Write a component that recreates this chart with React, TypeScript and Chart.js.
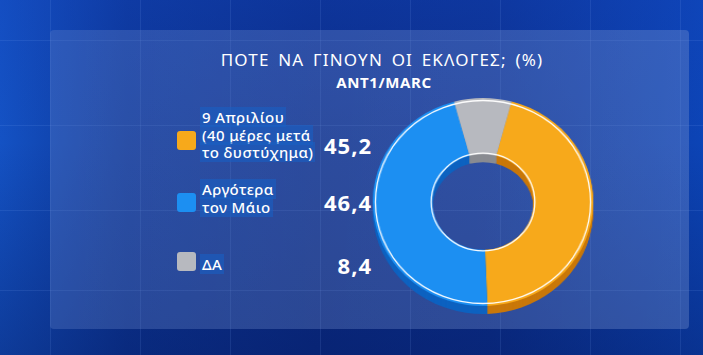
import React, { useEffect, useRef } from "react";
import { Chart, registerables } from "chart.js";

Chart.register(...registerables);

const categories: string[][] = [
  ["9 Απριλίου", "(40 μέρες μετά", "το δυστύχημα)"],
  ["Αργότερα", "τον Μάιο"],
  ["ΔΑ"],
];
const values: number[] = [45.2, 46.4, 8.4];
const colors: string[] = ["#F7A91B", "#1C8FF2", "#B7B9BF"];
const sideColors: string[] = ["#C9780A", "#0D62C0", "#8A8C92"];
const title = "ΠΟΤΕ ΝΑ ΓΙΝΟΥΝ ΟΙ ΕΚΛΟΓΕΣ; (%)";
const subtitle = "ANT1/MARC";

const fmt = (v: number) => v.toFixed(1).replace(".", ",");

const depthPlugin = {
  id: "depth3d",
  beforeDatasetsDraw(chart: any) {
    const ctx = chart.ctx;
    const meta = chart.getDatasetMeta(0);
    ctx.save();
    for (let d = 8; d >= 1; d--) {
      meta.data.forEach((arc: any, i: number) => {
        const p = arc.getProps(["x", "y", "startAngle", "endAngle", "innerRadius", "outerRadius"], true);
        ctx.beginPath();
        ctx.arc(p.x, p.y + d, p.outerRadius, p.startAngle, p.endAngle);
        ctx.arc(p.x, p.y + d, p.innerRadius, p.endAngle, p.startAngle, true);
        ctx.closePath();
        ctx.fillStyle = sideColors[i];
        ctx.fill();
      });
    }
    ctx.restore();
  },
  afterDatasetsDraw(chart: any) {
    const ctx = chart.ctx;
    const meta = chart.getDatasetMeta(0);
    const a = meta.data[0];
    if (!a) return;
    const p = a.getProps(["x", "y", "innerRadius", "outerRadius"], true);
    ctx.save();
    ctx.strokeStyle = "rgba(255,255,255,0.95)";
    ctx.lineWidth = 1.3;
    ctx.beginPath();
    ctx.arc(p.x, p.y, p.outerRadius - 2.5, 0, Math.PI * 2);
    ctx.stroke();
    ctx.beginPath();
    ctx.arc(p.x, p.y, p.innerRadius + 1, 0, Math.PI * 2);
    ctx.stroke();
    ctx.restore();
  },
};

const rowTops = [109, 181, 256];
const squareTops = [131, 193, 252];
const valueCenters = [145, 202, 265];

export default function App() {
  const ref = useRef<HTMLCanvasElement | null>(null);
  useEffect(() => {
    if (!ref.current) return;
    const chart = new Chart(ref.current, {
      type: "doughnut",
      data: {
        labels: categories.map((c) => c.join(" ")),
        datasets: [
          {
            data: values,
            backgroundColor: colors,
            borderWidth: 0,
          },
        ],
      },
      options: {
        animation: false,
        responsive: false,
        rotation: 15,
        cutout: "46%",
        layout: { padding: { left: 11, right: 11, top: 13, bottom: 19 } },
        plugins: { legend: { display: false }, tooltip: { enabled: false } },
      },
      plugins: [depthPlugin],
    });
    return () => chart.destroy();
  }, []);

  const gridLinesV = [50, 140, 230, 320, 410, 500, 590, 680];
  const gridLinesH = [40, 125, 210, 290];

  return (
    <div
      style={{
        position: "fixed",
        left: 0,
        top: 0,
        width: 703,
        height: 355,
        overflow: "hidden",
        background:
          "linear-gradient(90deg, #1452c4 0%, #0c3596 18%, #0a2b86 45%, #0b2f8e 70%, #0c44b6 100%)",
        fontFamily: "'Noto Sans', 'Open Sans', sans-serif",
        color: "#fff",
      }}
    >
      <div
        style={{
          position: "absolute",
          left: 0,
          top: 0,
          width: 703,
          height: 355,
          background: "linear-gradient(180deg, rgba(20,70,190,0.35) 0%, rgba(0,0,0,0) 40%, rgba(5,25,90,0.4) 100%)",
        }}
      />
      {gridLinesV.map((x) => (
        <div key={"v" + x} style={{ position: "absolute", left: x, top: 0, width: 1, height: 355, background: "rgba(140,180,255,0.12)" }} />
      ))}
      {gridLinesH.map((y) => (
        <div key={"h" + y} style={{ position: "absolute", left: 0, top: y, width: 703, height: 1, background: "rgba(140,180,255,0.12)" }} />
      ))}
      <div
        style={{
          position: "absolute",
          left: 50,
          top: 30,
          width: 639,
          height: 299,
          borderRadius: 4,
          background: "rgba(100,130,200,0.33)",
        }}
      />
      <div
        style={{
          position: "absolute",
          left: 50,
          top: 30,
          width: 639,
          height: 299,
          borderRadius: 4,
          background: "linear-gradient(90deg, rgba(255,255,255,0) 0%, rgba(255,255,255,0.03) 60%, rgba(255,255,255,0.05) 100%)",
        }}
      />
      <div
        style={{
          position: "absolute",
          left: 182,
          top: 49,
          width: 400,
          textAlign: "center",
          fontSize: 17,
          lineHeight: "22px",
          letterSpacing: 1.2,
          wordSpacing: 3,
        }}
      >
        {title}
      </div>
      <div
        style={{
          position: "absolute",
          left: 184,
          top: 72,
          width: 400,
          textAlign: "center",
          fontSize: 15,
          fontWeight: 700,
          lineHeight: "20px",
          letterSpacing: 0.6,
        }}
      >
        {subtitle}
      </div>
      {categories.map((lines, i) => (
        <React.Fragment key={i}>
          <div
            style={{
              position: "absolute",
              left: 177,
              top: squareTops[i],
              width: 19,
              height: 19,
              borderRadius: 3,
              background: colors[i],
            }}
          />
          <div
            style={{
              position: "absolute",
              left: 200,
              top: rowTops[i],
              fontSize: 15,
              lineHeight: "17.7px",
              fontWeight: 500,
              letterSpacing: 0.4,
            }}
          >
            {lines.map((t, j) => (
              <div key={j}>
                <span style={{ background: "rgba(25,95,195,0.6)", padding: "0 2px" }}>{t}</span>
              </div>
            ))}
          </div>
          <div
            style={{
              position: "absolute",
              left: 272,
              width: 100,
              top: valueCenters[i] - 15,
              height: 30,
              lineHeight: "30px",
              textAlign: "right",
              fontSize: 22,
              fontWeight: 700,
              letterSpacing: 1,
            }}
          >
            {fmt(values[i])}
          </div>
        </React.Fragment>
      ))}
      <canvas
        ref={ref}
        width={230}
        height={240}
        style={{
          position: "absolute",
          left: 368,
          top: 85,
          width: 230,
          height: 240,
          transform: "scaleX(1.06)",
          transformOrigin: "115px 0px",
        }}
      />
    </div>
  );
}
